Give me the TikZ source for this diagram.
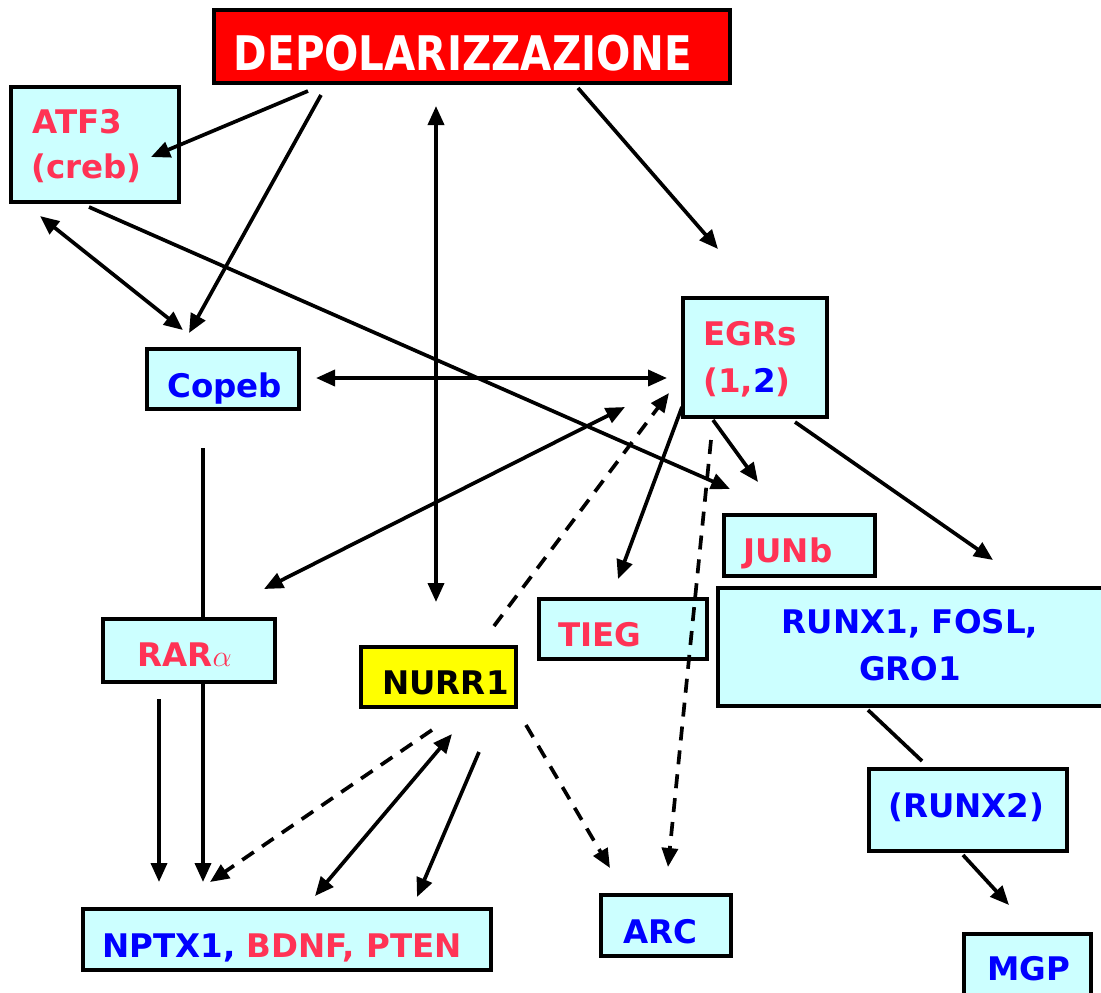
\documentclass[tikz,border=0pt]{standalone}
\usepackage{fontspec}
\setmainfont{DejaVu Sans}
\usetikzlibrary{arrows.meta,fit}
\definecolor{tred}{RGB}{255,51,85}
\definecolor{tblue}{RGB}{0,0,255}
\definecolor{boxfill}{RGB}{204,255,255}
\definecolor{depred}{RGB}{255,0,0}
\definecolor{nurry}{RGB}{255,255,0}
\begin{document}
\begin{tikzpicture}[x=0.02cm,y=-0.02cm,
  box/.style={draw=black, line width=2.4pt, fill=boxfill, inner sep=0pt},
  lbl/.style={anchor=base west, inner sep=0pt, font=\fontsize{18.5}{20}\selectfont\bfseries},
  conn/.style={line width=2.1pt, -{Triangle[length=0.38cm,width=0.32cm]}},
  biconn/.style={line width=2.1pt, {Triangle[length=0.38cm,width=0.32cm]}-{Triangle[length=0.38cm,width=0.32cm]}},
  dconn/.style={conn, dash pattern=on 0.28cm off 0.2cm},
  plainline/.style={line width=2.1pt}]
\useasboundingbox (0,0) rectangle (1101,992);
\clip (0,0) rectangle (1101,992);
\fill[white] (0,0) rectangle (1101,992);

% boxes
\node[box, fill=depred, fit={(214,10)(730,83)}] (dep) {};
\node[box, fit={(11,87)(179,202)}] (atf) {};
\node[box, fit={(147,349)(299,409)}] (cop) {};
\node[box, fit={(683,298)(827,417)}] (egr) {};
\node[box, fit={(724,515)(875,576)}] (jun) {};
\node[box, fit={(539,599)(707,659)}] (tieg) {};
\node[box, fit={(718,588)(1115,706)}] (runx) {};
\node[box, fit={(103,619)(275,682)}] (rar) {};
\node[box, fill=nurry, fit={(361,647)(516,707)}] (nurr) {};
\node[box, fit={(83,909)(491,970)}] (nptx) {};
\node[box, fit={(601,895)(731,956)}] (arc) {};
\node[box, fit={(869,769)(1067,851)}] (runxb) {};
\node[box, fit={(964,934)(1091,1010)}] (mgp) {};

% texts
\node[anchor=center, inner sep=0pt, text=white, yscale=1.18, font=\fontsize{23}{26}\selectfont\bfseries] (depT) at (463,53) {DEPOLARIZZAZIONE};
\node[lbl, text=tred] (atfT1) at (32,133) {ATF3};
\node[lbl, text=tred] (atfT2) at (31,178) {(creb)};
\node[lbl, text=tblue] (copT) at (167,397) {Copeb};
\node[lbl, text=tred] (egrT1) at (703,345) {EGRs};
\node[lbl, text=tred] (egrT2) at (703,392) {(1,\textcolor{tblue}{2})};
\node[lbl, text=tred] (junT) at (743,562) {JUNb};
\node[lbl, text=tred] (tiegT) at (558,646) {TIEG};
\node[lbl, anchor=base, text=tblue] (runxT1) at (910,633) {RUNX1, FOSL,};
\node[lbl, anchor=base, text=tblue] (runxT2) at (910,680) {GRO1};
\node[lbl, text=tred] (rarT) at (137,666) {RAR$\alpha$};
\node[lbl, text=black] (nurrT) at (382,694) {NURR1};
\node[lbl, text=tblue] (nptxT) at (102,957) {NPTX1, \textcolor{tred}{BDNF, PTEN}};
\node[lbl, text=tblue] (arcT) at (623,943) {ARC};
\node[lbl, text=tblue] (runxbT) at (888,817) {(RUNX2)};
\node[lbl, text=tblue] (mgpT) at (987,980) {MGP};

% connector end points
\coordinate (a1) at (308,91);  \coordinate (b1) at (151,157);
\coordinate (a2) at (321,95);  \coordinate (b2) at (189,333);
\coordinate (a3) at (578,88);  \coordinate (b3) at (718,249);
\coordinate (a4) at (436,106); \coordinate (b4) at (436,602);
\coordinate (a5) at (40,216);  \coordinate (b5) at (183,330);
\coordinate (a6) at (89,207);  \coordinate (b6) at (730,489);
\coordinate (a7) at (316,378); \coordinate (b7) at (667,378);
\coordinate (a8) at (203,448);
\coordinate (a9) at (264,589); \coordinate (b9) at (625,407);
\coordinate (a10) at (494,626); \coordinate (b10) at (669,393);
\coordinate (a11) at (682,407); \coordinate (b11) at (618,579);
\coordinate (a12) at (711,440); \coordinate (b12) at (668,867);
\coordinate (a13) at (713,420); \coordinate (b13) at (758,482);
\coordinate (a14) at (795,422); \coordinate (b14) at (993,560);
\coordinate (a15) at (868,710); \coordinate (b15) at (922,761);
\coordinate (a16) at (963,855); \coordinate (b16) at (1009,905);
\coordinate (a17) at (159,699); \coordinate (b17) at (159,882);
\coordinate (b18) at (203,882);
\coordinate (a19) at (432,730); \coordinate (b19) at (210,882);
\coordinate (a20) at (452,734); \coordinate (b20) at (315,896);
\coordinate (a21) at (479,752); \coordinate (b21) at (417,897);
\coordinate (a22) at (526,725); \coordinate (b22) at (610,868);

% connectors
\draw[conn] (a1) -- (b1);
\draw[conn] (a2) -- (b2);
\draw[conn] (a3) -- (b3);
\draw[biconn] (a4) -- (b4);
\draw[biconn] (a5) -- (b5);
\draw[conn] (a6) -- (b6);
\draw[biconn] (a7) -- (b7);
\draw[plainline] (a8) -- (rar.north -| a8);
\draw[biconn] (a9) -- (b9);
\draw[dconn] (a10) -- (b10);
\draw[conn] (a11) -- (b11);
\draw[dconn] (a12) -- (b12);
\draw[conn] (a13) -- (b13);
\draw[conn] (a14) -- (b14);
\draw[plainline] (a15) -- (b15);
\draw[conn] (a16) -- (b16);
\draw[conn] (a17) -- (b17);
\draw[conn] (rar.south -| b18) -- (b18);
\draw[dconn] (a19) -- (b19);
\draw[biconn] (a20) -- (b20);
\draw[conn] (a21) -- (b21);
\draw[dconn] (a22) -- (b22);
\end{tikzpicture}
\end{document}
